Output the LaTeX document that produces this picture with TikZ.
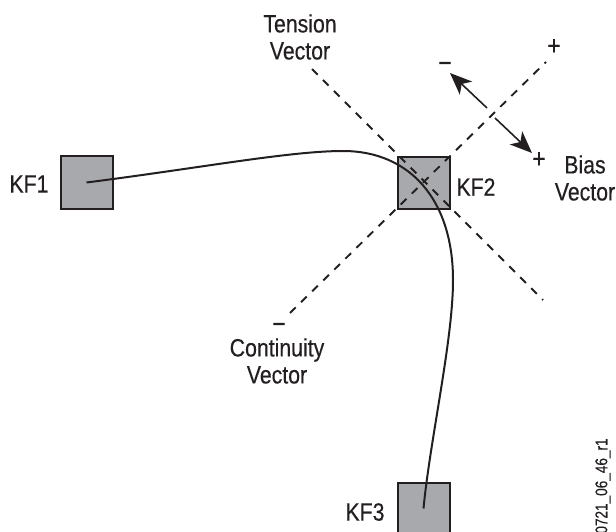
\documentclass[tikz,border=0pt]{standalone}
\usepackage{fontspec}
\newfontfamily\cond{Liberation Sans}[FakeStretch=0.85, FakeBold=0.4]
\newfontfamily\condsmall{Liberation Sans}[FakeStretch=0.8, FakeBold=0.3]
\usetikzlibrary{arrows.meta}
\definecolor{ink}{HTML}{231F20}
\definecolor{boxgray}{HTML}{A7A9AC}
\tikzset{
  kf/.style={draw=ink, fill=boxgray, line width=2pt, minimum size=52pt, inner sep=0pt},
  lbl/.style={text=ink, font=\cond\fontsize{25}{27}\selectfont, align=center, inner sep=0pt},
  sign/.style={text=ink, font=\cond\fontsize{27}{29}\selectfont, inner sep=0pt},
  vec/.style={draw=ink, line width=1.9pt, dash pattern=on 8pt off 7.5pt},
  path/.style={draw=ink, line width=2pt},
  bias/.style={draw=ink, line width=1.6pt, -{Stealth[length=22pt, width=18pt, inset=6pt]}}
}
\begin{document}
\begin{tikzpicture}[x=1pt, y=-1pt]
\useasboundingbox (0,0) rectangle (616,532);
\clip (0,0) rectangle (616,532);
% keyframes
\node[kf] (kf1) at (86.5,182.5) {};
\node[kf] (kf2) at (423.5,183) {};
\node[kf] (kf3) at (423.5,508.5) {};
% motion path
\coordinate (peak) at (343,151);
\coordinate (right) at (453,280);
\draw[path] (kf1.center) .. controls (200,168) and (290,151) .. (peak)
  .. controls (410,151) and (453,200) .. (right)
  .. controls (453,340) and (430,440) .. (kf3.center);
% tension and continuity vectors
\coordinate (tA) at (312,69);
\coordinate (tB) at (543,300);
\coordinate (cA) at (290,313);
\coordinate (cB) at (546,62);
\draw[vec] (tA) -- (tB);
\draw[vec] (cA) -- (cB);
% bias vector arrows
\coordinate (b1s) at (487,108);
\coordinate (b1e) at (450,73);
\coordinate (b2s) at (495,118);
\coordinate (b2e) at (532,153);
\draw[bias] (b1s) -- (b1e);
\draw[bias] (b2s) -- (b2e);
% signs
\node[sign] (mtop) at (445,67) {−};
\node[sign] (ptop) at (554,47) {+};
\node[sign] (pbias) at (539,160) {+};
\node[sign] (mcont) at (279,328) {−};
% labels
\node[lbl] (tens) at (300,37) {Tension\\Vector};
\node[lbl] (biasl) at (585,178) {Bias\\Vector};
\node[lbl] (cont) at (277,361) {Continuity\\Vector};
\node[lbl] (l1) at (29,184) {KF1};
\node[lbl] (l2) at (476,187) {KF2};
\node[lbl] (l3) at (365,512) {KF3};
\node[text=ink, font=\condsmall\fontsize{17}{19}\selectfont, inner sep=0pt, rotate=90] (code) at (603,486) {0721\_06\_46\_r1};
\end{tikzpicture}
\end{document}
